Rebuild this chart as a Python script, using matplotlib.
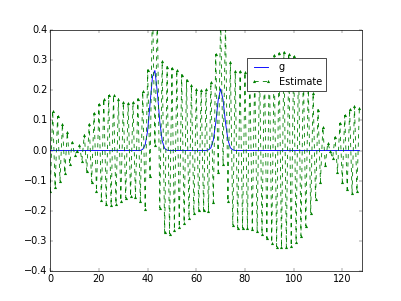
import matplotlib
matplotlib.use("Agg")
import matplotlib.pyplot as plt
import numpy as np

plt.style.use("classic")
plt.rcParams['font.size'] = 14

# Estimate values, even and odd indices
est_even = [-0.135, -0.122, -0.100, -0.076, -0.045, -0.014, 0.017, 0.052,
            0.088, 0.124, 0.154, 0.172, 0.183, 0.183, 0.172, 0.161,
            0.157, 0.161, 0.172, 0.197, 0.268, 0.500, 0.460, 0.296,
            0.279, 0.274, 0.268, 0.252, 0.235, 0.218, 0.205, 0.202,
            0.203, 0.227, 0.320, 0.450, 0.430, 0.294, 0.265, 0.263,
            0.260, 0.262, 0.266, 0.274, 0.288, 0.302, 0.316, 0.324,
            0.327, 0.322, 0.315, 0.295, 0.270, 0.232, 0.190, 0.136,
            0.078, 0.025, -0.026, -0.070, -0.104, -0.129, -0.141, -0.136]
est_odd = [0.132, 0.113, 0.089, 0.061, 0.028, -0.003, -0.034, -0.069,
           -0.105, -0.135, -0.163, -0.178, -0.182, -0.178, -0.167, -0.158,
           -0.152, -0.155, -0.167, -0.194, -0.086, 0.017, -0.191, -0.272,
           -0.276, -0.263, -0.255, -0.240, -0.224, -0.208, -0.199, -0.199,
           -0.200, -0.172, -0.071, -0.045, -0.169, -0.247, -0.258, -0.258,
           -0.258, -0.262, -0.266, -0.277, -0.292, -0.306, -0.319, -0.321,
           -0.321, -0.317, -0.303, -0.283, -0.251, -0.208, -0.162, -0.104,
           -0.048, 0.000, 0.045, 0.091, 0.117, 0.138, 0.147, 0.141]

estimate = []
for e, o in zip(est_even, est_odd):
    estimate.append(e)
    estimate.append(o)

# g: zero except two bumps
g_zero_a = [0.0] * 38
g_bump1 = [0.004, 0.019, 0.065, 0.154, 0.245, 0.266, 0.194, 0.096, 0.032, 0.007, 0.001]
g_zero_b = [0.0] * 16
g_bump2 = [0.002, 0.009, 0.035, 0.093, 0.168, 0.205, 0.168, 0.093, 0.035, 0.009, 0.002]
g_zero_c = [0.0] * 52
g = g_zero_a + g_bump1 + g_zero_b + g_bump2 + g_zero_c

x = list(range(len(estimate)))

fig = plt.figure(figsize=(8.04, 6.02), dpi=50)
ax = fig.add_subplot(111)
ax.plot(x, g, 'b-', label='g', linewidth=1.3)
ax.plot(x, estimate, 'g--^', label='Estimate', linewidth=1.2,
        markersize=4.5, markeredgewidth=0)
ax.set_xlim(0, 128)
ax.set_ylim(-0.4, 0.4)
ax.legend(loc='upper right', bbox_to_anchor=(0.884, 0.884), borderaxespad=0,
          numpoints=2, fontsize=14)
fig.savefig("out.png", dpi=50)
